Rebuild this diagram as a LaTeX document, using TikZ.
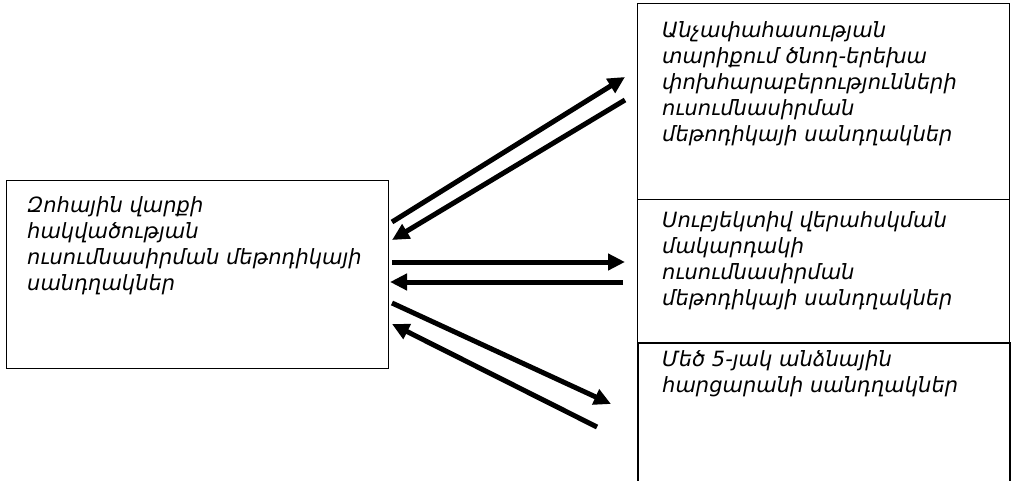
\documentclass[tikz,border=0pt]{standalone}
\usepackage{fontspec}
\setmainfont{DejaVu Sans}[ItalicFont={DejaVu Sans Oblique}]
\usetikzlibrary{arrows.meta}

\tikzset{
  box/.style={draw,line width=1.3pt,inner sep=0pt,anchor=north west},
  txt/.style={anchor=base west,align=left,inner sep=0pt,font=\fontsize{21}{26}\selectfont\itshape},
  arr/.style={line width=5pt,-{Triangle[length=17pt,width=16pt]}}
}

\begin{document}
\begin{tikzpicture}[x=1pt,y=1pt]
  \useasboundingbox (0,0) rectangle (1011,480);
  \clip (0,0) rectangle (1011,480);
  \node[box,minimum width=382pt,minimum height=188pt] (zvr) at (6,300) {};
  \node[box,minimum width=372pt,minimum height=196pt] (ncf) at (637,477) {};
  \node[box,minimum width=372pt,minimum height=144pt] (svm) at (637,281) {};
  \node[box,minimum width=372pt,minimum height=160pt,line width=1.8pt] (mhq) at (637,138) {};
  \node[txt] (zvrt) at (27,190) {Զոհային վարքի\\հակվածության\\ուսումնասիրման մեթոդիկայի\\սանդղակներ};
  \node[txt] (ncft) at (662,338) {Անչափահասության\\տարիքում ծնող-երեխա\\փոխհարաբերությունների\\ուսումնասիրման\\մեթոդիկայի սանդղակներ};
  \node[txt] (svmt) at (662,175) {Սուբյեկտիվ վերահսկման\\մակարդակի\\ուսումնասիրման\\մեթոդիկայի սանդղակներ};
  \node[txt] (mhqt) at (662,88) {Մեծ 5-յակ անձնային\\հարցարանի սանդղակներ};
  \coordinate (a1s) at (392,258);
  \coordinate (a1e) at (625,403);
  \coordinate (a2s) at (625,380);
  \coordinate (a2e) at (392,240);
  \coordinate (a3s) at (392,218);
  \coordinate (a3e) at (625,218);
  \coordinate (a4s) at (623,198);
  \coordinate (a4e) at (390,198);
  \coordinate (a5s) at (392,177);
  \coordinate (a5e) at (611,76);
  \coordinate (a6s) at (597,53);
  \coordinate (a6e) at (392,156);
  \draw[arr] (a1s) -- (a1e);
  \draw[arr] (a2s) -- (a2e);
  \draw[arr] (a3s) -- (a3e);
  \draw[arr] (a4s) -- (a4e);
  \draw[arr] (a5s) -- (a5e);
  \draw[arr] (a6s) -- (a6e);
\end{tikzpicture}
\end{document}
